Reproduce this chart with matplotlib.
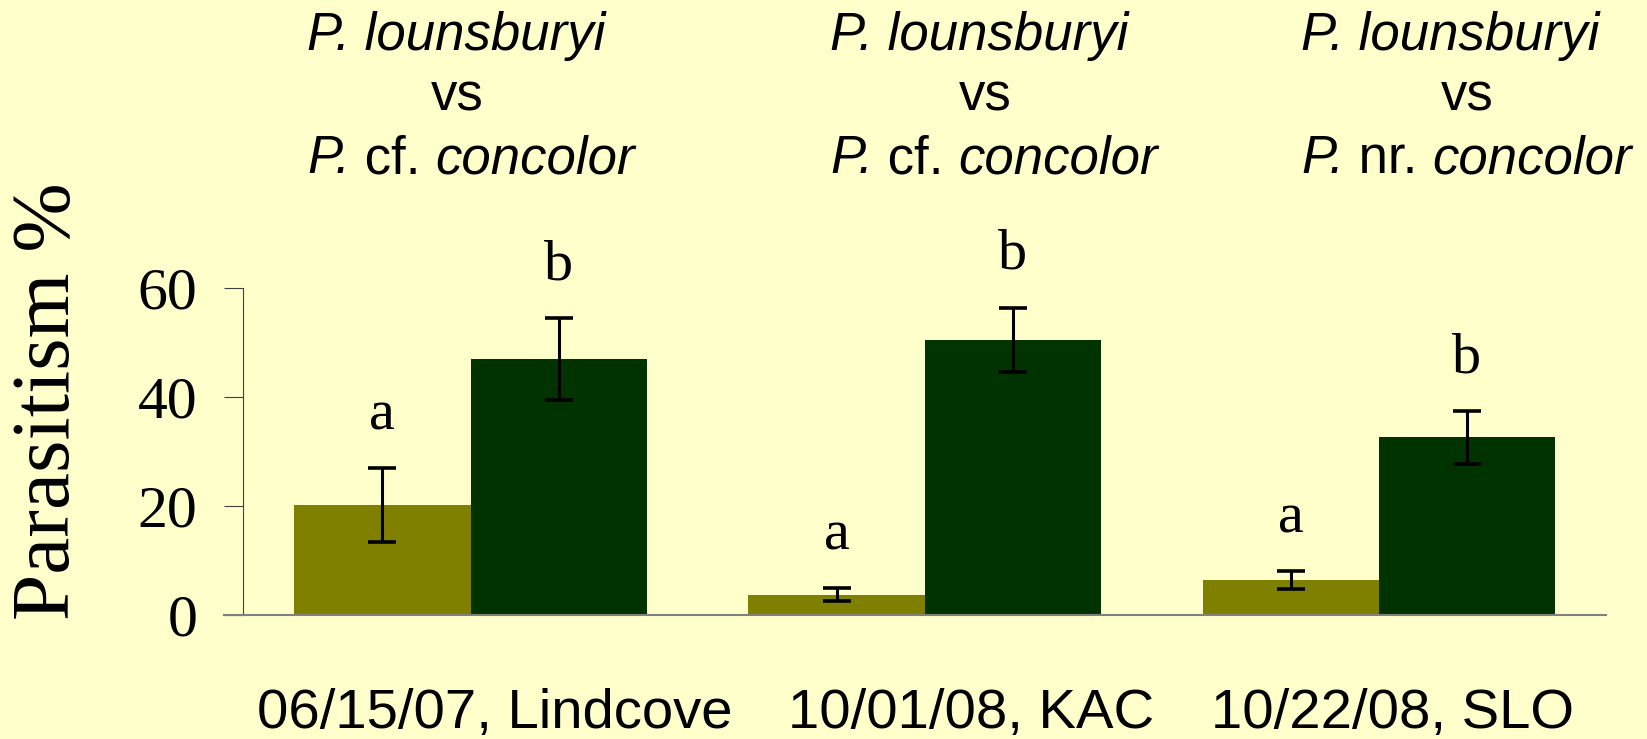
import numpy as np
import matplotlib
matplotlib.use('Agg')
import matplotlib.pyplot as plt
import matplotlib.transforms as mtransforms

# data
sites = ['06/15/07, Lindcove', '10/01/08, KAC', '10/22/08, SLO']
lounsburyi = [20.2, 3.7, 6.4]
lounsburyi_err = [6.8, 1.2, 1.7]
concolor = [47.0, 50.5, 32.6]
concolor_err = [7.5, 5.9, 4.8]
letters_lou = ['a', 'a', 'a']
letters_con = ['b', 'b', 'b']
# header lines as (text, italic) pieces
first_sp = [('P. lounsburyi', True)]
rivals = [[('P.', True), (' cf. ', False), ('concolor', True)],
          [('P.', True), (' cf. ', False), ('concolor', True)],
          [('P.', True), (' nr. ', False), ('concolor', True)]]

bg = '#FFFFCC'
olive = '#808000'
dkgreen = '#003300'

fig = plt.figure(figsize=(16.47, 7.39), dpi=100, facecolor=bg)
ax = fig.add_axes([0.1478, 0.1678, 0.8273, 0.4421])
ax.set_facecolor(bg)

x = np.arange(len(sites))
w = 0.388
err_kw = dict(ecolor='black', elinewidth=2.2, capsize=10, capthick=2.6)
ax.bar(x - w / 2, lounsburyi, w, color=olive, yerr=lounsburyi_err,
       error_kw=err_kw, zorder=2)
ax.bar(x + w / 2, concolor, w, color=dkgreen, yerr=concolor_err,
       error_kw=err_kw, zorder=2)

# significance letters above the error bars
for xi, v, e, t in zip(x - w / 2, lounsburyi, lounsburyi_err, letters_lou):
    ax.annotate(t, (xi, v + e), xytext=(0, 28), textcoords='offset points',
                ha='center', va='baseline', fontsize=42, family='Liberation Serif')
for xi, v, e, t in zip(x + w / 2, concolor, concolor_err, letters_con):
    ax.annotate(t, (xi, v + e), xytext=(0, 28), textcoords='offset points',
                ha='center', va='baseline', fontsize=42, family='Liberation Serif')

ax.set_xlim(-0.5, 2.5)
ax.set_ylim(0, 60)
ax.set_yticks([0, 20, 40, 60])
ax.set_xticks([])
for lab in ax.get_yticklabels():
    lab.set_fontfamily('Liberation Serif')
    lab.set_fontsize(43)
ax.tick_params(axis='y', direction='out', length=14, width=0.8,
               color='#404040', pad=19)
for s in ['top', 'right']:
    ax.spines[s].set_visible(False)
ax.spines['left'].set_color('#404040')
ax.spines['left'].set_linewidth(0.8)
ax.spines['bottom'].set_color('#808080')
ax.spines['bottom'].set_linewidth(1.5)
ax.spines['bottom'].set_zorder(3)
# extend the baseline to the tick's end like the original
ax.plot([-0.5 - 19.5 / 454, -0.5], [0, 0], color='#808080', lw=1.5,
        clip_on=False, zorder=3)

# site labels under the groups
nudge = [0.053, 0.103, 0.031]
trans = mtransforms.blended_transform_factory(ax.transData, ax.transAxes)
for xi, dx, s in zip(x, nudge, sites):
    ax.text(xi + dx, -0.346, s, transform=trans, ha='center', va='baseline',
            fontsize=40.5, family='Liberation Sans')

fig.text(49 / 1647, 0.457, 'Parasitism %', rotation=90, ha='center',
         va='center', fontsize=60, family='Liberation Serif')


def header_line(x0, y, pieces, size=38):
    # chain text pieces left to right, each starting where the last ended
    last = None
    for txt, it in pieces:
        style = 'italic' if it else 'normal'
        if last is None:
            last = fig.text(x0, y, txt, ha='left', va='bottom', fontsize=size,
                            style=style, family='Liberation Sans')
        else:
            last = ax.annotate(txt, xy=(1, 0), xycoords=last, ha='left',
                               va='bottom', fontsize=size, style=style,
                               family='Liberation Sans', annotation_clip=False)


# comparison headers above each group
starts = [0.1864, 0.5039, 0.7899]
vs_mid = [0.2775, 0.5981, 0.8907]
for x0, xv, r in zip(starts, vs_mid, rivals):
    header_line(x0, 0.9170, first_sp)
    fig.text(xv, 0.8360, 'vs', ha='center', va='bottom', fontsize=38,
             family='Liberation Sans')
    header_line(x0, 0.7505, r)

fig.savefig('out.png', dpi=100, facecolor=bg)
